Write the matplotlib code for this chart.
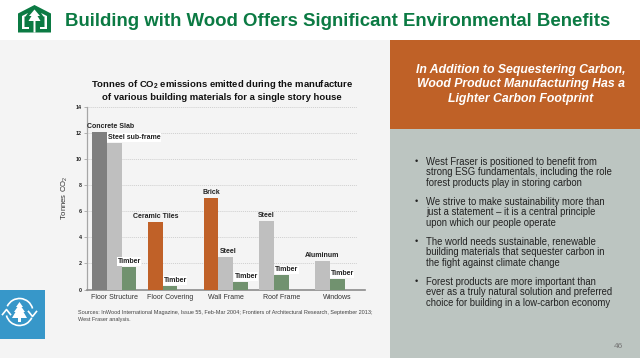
import matplotlib
matplotlib.use("Agg")
import matplotlib.pyplot as plt
from matplotlib.patches import Rectangle, Polygon, Arc

plt.rcParams['font.family'] = ['Liberation Sans', 'DejaVu Sans']
plt.rcParams['mathtext.fontset'] = 'custom'
plt.rcParams['mathtext.rm'] = 'Liberation Sans'
plt.rcParams['mathtext.it'] = 'Liberation Sans:italic'
plt.rcParams['mathtext.bf'] = 'Liberation Sans:bold'

categories = ["Floor Structure", "Floor Covering", "Wall Frame", "Roof Frame", "Windows"]
group_index = [0, 0, 0, 1, 1, 2, 2, 2, 3, 3, 4, 4]
slot_index = [0, 1, 2, 0, 1, 0, 1, 2, 0, 1, 0, 1]
materials = ["Concrete Slab", "Steel sub-frame", "Timber", "Ceramic Tiles", "Timber", "Brick",
             "Steel", "Timber", "Steel", "Timber", "Aluminum", "Timber"]
values = [12.1, 11.25, 1.75, 5.2, 0.3, 7.0, 2.5, 0.6, 5.25, 1.1, 2.2, 0.8]
yticks = [0, 2, 4, 6, 8, 10, 12, 14]
title_text = "Building with Wood Offers Significant Environmental Benefits"
chart_title = ["Tonnes of CO$_{\\mathbf{2}}$ emissions emitted during the manufacture",
               "of various building materials for a single story house"]
callout = ["In Addition to Sequestering Carbon,", "Wood Product Manufacturing Has a", "Lighter Carbon Footprint"]
bullets = [["West Fraser is positioned to benefit from", "strong ESG fundamentals, including the role", "forest products play in storing carbon"],
           ["We strive to make sustainability more than", "just a statement \u2013 it is a central principle", "upon which our people operate"],
           ["The world needs sustainable, renewable", "building materials that sequester carbon in", "the fight against climate change"],
           ["Forest products are more important than", "ever as a truly natural solution and preferred", "choice for building in a low-carbon economy"]]
sources = ["Sources: InWood International Magazine, Issue 55, Feb-Mar 2004; Frontiers of Architectural Research, September 2013;",
           "West Fraser analysis."]

colors = {"Concrete Slab": "#7f7f7f", "Steel sub-frame": "#bfbfbf", "Steel": "#bfbfbf", "Aluminum": "#bfbfbf",
          "Timber": "#71926f", "Ceramic Tiles": "#c06128", "Brick": "#c06128"}
GREEN = "#0b7a43"

W, H = 640, 358
fig = plt.figure(figsize=(W / 100, H / 100), dpi=100, facecolor="white")

# page canvas in pixel coordinates
bg = fig.add_axes([0, 0, 1, 1], zorder=0)
bg.set_xlim(0, W); bg.set_ylim(H, 0); bg.axis("off")
bg.add_patch(Rectangle((0, 40), 390, 318, fc="#f4f4f4", ec="none"))
bg.add_patch(Rectangle((390, 40), 250, 89, fc="#bf6127", ec="none"))
bg.add_patch(Rectangle((390, 129), 250, 229, fc="#bcc5c1", ec="none"))

# logo
bg.add_patch(Polygon([(18, 32.5), (18, 13.5), (34.5, 5), (51, 13.5), (51, 32.5)], fc=GREEN, ec="none"))
bg.add_patch(Polygon([(34.5, 9.5), (29, 16), (31.5, 16), (28.5, 21), (33.5, 21), (33.5, 32.5), (35.5, 32.5),
                      (35.5, 21), (40.5, 21), (37.5, 16), (40, 16)], fc="white", ec="none"))
bg.add_patch(Polygon([(22, 16), (28, 13), (25.5, 16.5), (24.5, 16.5), (24.5, 27), (29, 27), (29, 29), (22, 29)],
                     fc="white", ec="none"))
bg.add_patch(Polygon([(47, 16), (41, 13), (43.5, 16.5), (44.5, 16.5), (44.5, 27), (40, 27), (40, 29), (47, 29)],
                     fc="white", ec="none"))
bg.text(65, 22, title_text, fontsize=13.4, fontweight="bold", color=GREEN, va="center", ha="left")

# tree icon
bg.add_patch(Rectangle((0, 290), 44.5, 49, fc="#3797c9", ec="none"))
bg.add_patch(Arc((19.5, 312), 27, 27, theta1=205, theta2=345, ec="white", lw=1.2))
bg.add_patch(Arc((19.5, 312), 27, 27, theta1=25, theta2=165, ec="white", lw=1.2))
bg.plot([2.5, 6.5, 10.5], [314.5, 309.5, 314.5], color="white", lw=1.2)
bg.plot([28.5, 32.5, 36.5], [311.5, 316.5, 311.5], color="white", lw=1.2)
bg.add_patch(Polygon([(19.5, 302), (23, 307), (21.5, 307), (25, 312), (23.5, 312), (27, 318),
                      (12, 318), (15.5, 312), (14, 312), (17.5, 307), (16, 307)], fc="white", ec="none"))
bg.add_patch(Rectangle((18.2, 318), 2.6, 4, fc="white", ec="none"))

# chart title
for txt, y in zip(chart_title, (84.5, 97)):
    bg.text(222, y, txt, fontsize=6.8, fontweight="bold", color="#111111", ha="center", va="center")

# sources
for txt, y in zip(sources, (312.5, 319)):
    bg.text(78, y, txt, fontsize=3.95, color="#444444", ha="left", va="center")

# right panel
for txt, y in zip(callout, (69.5, 84.5, 99)):
    bg.text(521, y, txt, fontsize=8.8, fontstyle="italic", fontweight="bold", color="white", ha="center", va="center")
ys = [162, 202, 242, 282]
for lines, y0 in zip(bullets, ys):
    bg.text(416, y0, "\u2022", fontsize=6.5, color="#222222", ha="center", va="center")
    for i, ln in enumerate(lines):
        bg.text(426.5, y0 + i * 10.3, ln, fontsize=6.87, color="#222222", ha="left", va="center")
bg.text(623, 346.5, "46", fontsize=6, color="#777777", ha="right", va="center")

# bar chart
x0, x1, ytop, ybot = 86.5, 365, 106.7, 289.5
ax = fig.add_axes([x0 / W, 1 - ybot / H, (x1 - x0) / W, (ybot - ytop) / H], zorder=2)
ax.patch.set_alpha(0)
ax.set_xlim(-0.5, 4.5); ax.set_ylim(0, 14)
bar_w = 0.265
xs = [g + (s - 1) * bar_w for g, s in zip(group_index, slot_index)]
ax.bar(xs, values, width=bar_w, color=[colors[m] for m in materials], zorder=3, linewidth=0)

# labels
label_dx = [0.2, 0.36, 0, 0, 0.09, 0, 0.05, 0.1, 0, 0.1, 0, 0.09]
white_box = {"Steel sub-frame", "Timber"}
for x, v, m, dx in zip(xs, values, materials, label_dx):
    bbox = dict(fc="white", ec="none", pad=0.5) if m in white_box else None
    ax.annotate(m, (x + dx, v), xytext=(0, 3.7), textcoords="offset points",
                ha="center", va="center", fontsize=5.0, fontweight="bold", color="#222222", bbox=bbox, zorder=4)

for s in ("top", "right"):
    ax.spines[s].set_visible(False)
ax.spines["left"].set_color("#a6a6a6"); ax.spines["left"].set_linewidth(0.9)
ax.spines["bottom"].set_color("#8c8c8c"); ax.spines["bottom"].set_linewidth(1.2)
ax.set_yticks(yticks)
ax.set_yticklabels([str(t) for t in yticks], fontsize=3.9, fontweight="bold", color="#222222")
ax.tick_params(axis="y", length=2, width=0.6, color="#a6a6a6", pad=1.5)
ax.set_xticks(range(len(categories)))
ax.set_xticklabels(categories, fontsize=5.0, color="#333333")
ax.tick_params(axis="x", length=0, pad=3.5)
for t in yticks[1:]:
    ax.plot([-0.5, 4.36], [t, t], color="#cfcfcf", lw=0.7, ls=(0, (1, 1)), zorder=1, clip_on=False)
ax.set_ylabel("Tonnes CO$_2$", fontsize=5.6, color="#333333", labelpad=4)

fig.savefig("out.png", dpi=100, facecolor="white")
